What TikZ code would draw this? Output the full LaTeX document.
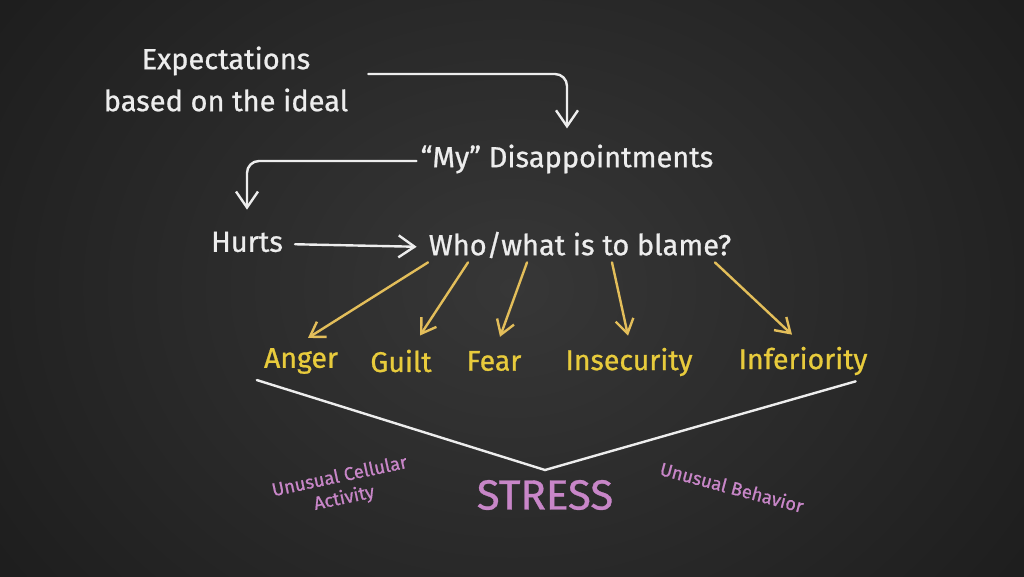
\documentclass[tikz,border=0pt]{standalone}
\usepackage{fontspec}
\setmainfont{Fira Sans}
\newfontfamily\chalkfont{Fira Sans}[FakeBold=0.8]
\usetikzlibrary{arrows.meta}
\definecolor{chalk}{HTML}{EDEDED}
\definecolor{chalkyellow}{HTML}{E8CB3C}
\definecolor{arrowyellow}{HTML}{E3BE5A}
\definecolor{chalkpink}{HTML}{C886C8}
\definecolor{boardin}{HTML}{373737}
\definecolor{boardout}{HTML}{1C1C1C}
\tikzset{
  wtext/.style={text=chalk, font=\chalkfont\fontsize{29}{42}\selectfont, inner sep=0pt, align=center},
  ytext/.style={text=chalkyellow, font=\chalkfont\fontsize{28.5}{32}\selectfont, inner sep=0pt},
  ptext/.style={text=chalkpink, font=\chalkfont\fontsize{18.5}{22}\selectfont, inner sep=0pt, align=center},
  warrow/.style={draw=chalk, line width=2.4pt, line cap=round, rounded corners=12pt,
     -{Straight Barb[length=16pt,width=22pt,line width=2.4pt]}},
  yarrow/.style={draw=arrowyellow, line width=2.4pt, line cap=round,
     -{Straight Barb[length=14pt,width=18pt,line width=2.4pt]}},
  wline/.style={draw=chalk, line width=2.4pt, line cap=round, line join=miter},
}
\begin{document}
\begin{tikzpicture}[x=1pt,y=-1pt]
\useasboundingbox (0,0) rectangle (1024,576);
\shade[inner color=boardin, outer color=boardout] (-150,-250) rectangle (1174,826);

\node[wtext] (exp) at (226,79) {Expectations\\based on the ideal};
\node[wtext] (dis) at (567,159) {“My” Disappointments};
\node[wtext] (hurts) at (247,242) {Hurts};
\node[wtext] (who) at (580,245) {Who/what is to blame?};

\node[ytext] (anger) at (301,361) {Anger};
\node[ytext] (guilt) at (401,361) {Guilt};
\node[ytext] (fear) at (494,361) {Fear};
\node[ytext] (insec) at (629,362) {Insecurity};
\node[ytext] (infer) at (803,361) {Inferiority};

\node[text=chalkpink, font=\chalkfont\fontsize{42}{44}\selectfont, inner sep=0pt] (stress) at (545,495) {STRESS};
\node[ptext, rotate=12] (cell) at (342,488) {Unusual Cellular\\Activity};
\node[ptext, rotate=-15] (behav) at (732,487) {Unusual Behavior};

\coordinate (apex) at (545,470);

\draw[warrow] ([xshift=20pt,yshift=5pt]exp.east) -| ([yshift=16pt]dis.north);
\draw[warrow] ([xshift=-4pt,yshift=-2pt]dis.west) -| ([yshift=22pt]hurts.north);
\draw[warrow, shorten <=12pt, shorten >=12pt] ([yshift=-2pt]hurts.east) -- ([yshift=-2pt]who.west);

\draw[yarrow] ([xshift=-152pt,yshift=-4pt]who.south) -- ([xshift=7pt,yshift=10pt]anger.north);
\draw[yarrow] ([xshift=-112pt,yshift=-4pt]who.south) -- ([xshift=19pt,yshift=14pt]guilt.north);
\draw[yarrow] ([xshift=-53pt,yshift=-4pt]who.south) -- ([xshift=6pt,yshift=14pt]fear.north);
\draw[yarrow] ([xshift=32pt,yshift=-4pt]who.south) -- ([xshift=-1pt,yshift=12pt]insec.north);
\draw[yarrow] ([xshift=135pt,yshift=-4pt]who.south) -- ([xshift=-11pt,yshift=12pt]infer.north);

\draw[wline] ([xshift=-7pt,yshift=-6pt]anger.south west) -- (apex) -- ([xshift=-12pt,yshift=-6pt]infer.south east);
\end{tikzpicture}
\end{document}
